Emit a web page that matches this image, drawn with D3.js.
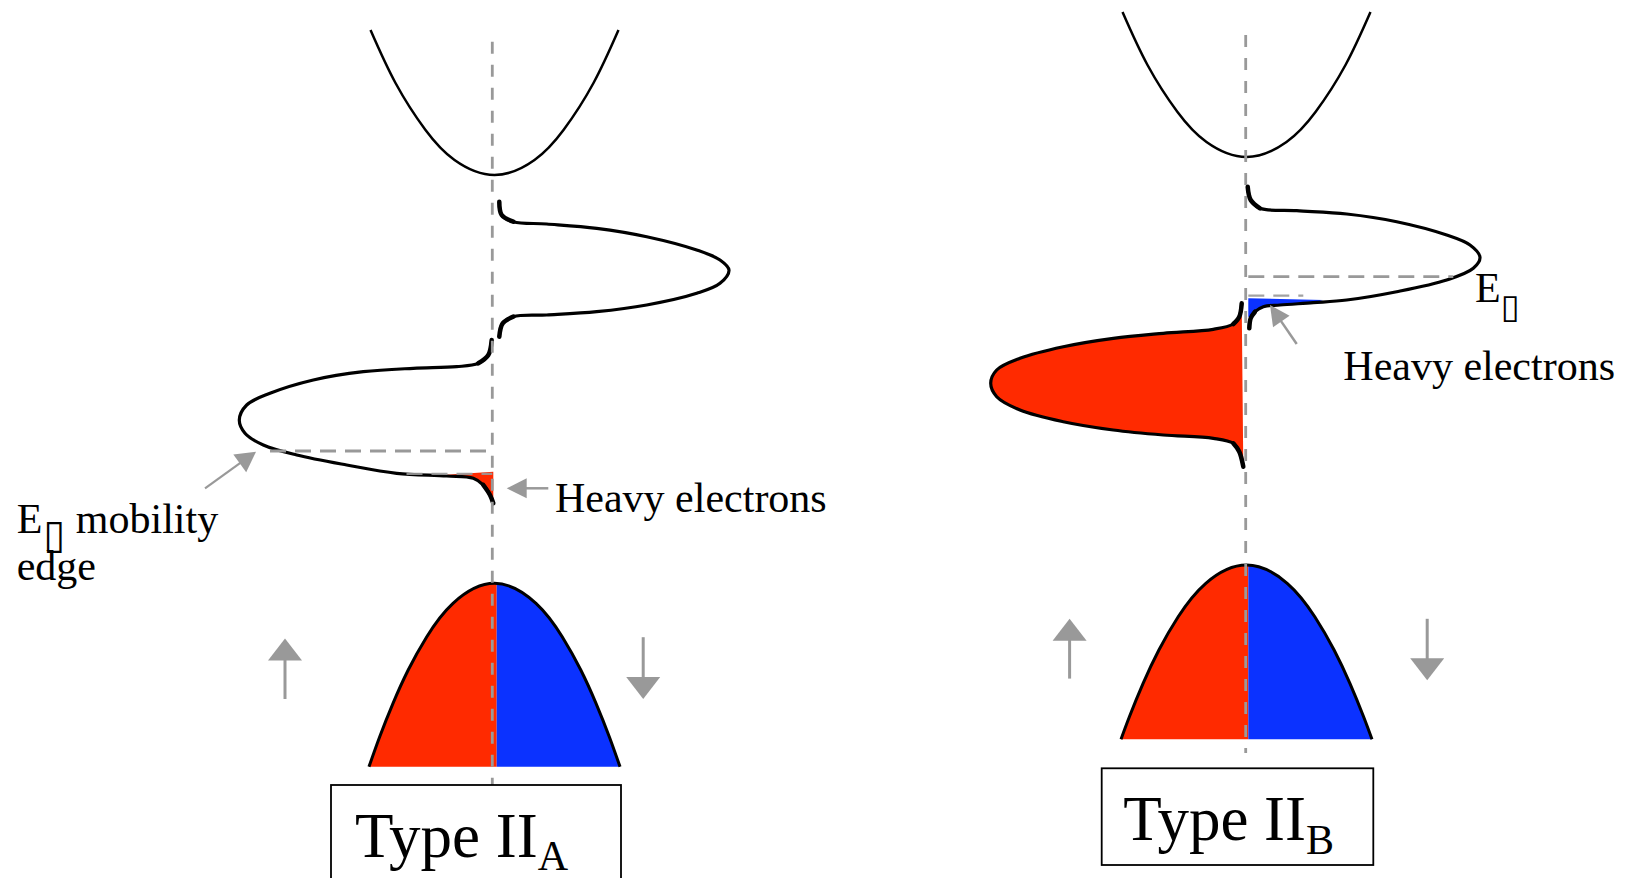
<!DOCTYPE html>
<html><head><meta charset="utf-8">
<script src="https://cdn.jsdelivr.net/npm/d3@7"></script>
<style>html,body{margin:0;padding:0;background:#fff;overflow:hidden}</style>
</head><body>
<svg id="chart" width="1626" height="878" xmlns="http://www.w3.org/2000/svg"></svg>
<script>
// ================= DATA (arbitrary units: DOS / momentum horizontally, energy vertically) =================
// Conduction band dispersion, relative to band edge (shared shape)
const cbK  = [-1.24, -0.99, -0.69, -0.40, 0, 0.40, 0.69, 0.99, 1.24];
const cbdE = [ 1.45,  0.92,  0.45,  0.15, 0, 0.15, 0.45, 0.92, 1.45];
const cbEdge = {A: 6.25, B: 6.43};

// Valence band dispersions
const vbA_K = [-1.255, -1.148, -1.015, -0.863, -0.677, -0.415, 0, 0.415, 0.677, 0.863, 1.015, 1.148, 1.255];
const vbA_E = [ 0.333,  0.633,  0.967,  1.30,   1.633,  1.967, 2.167, 1.967, 1.633, 1.30, 0.967, 0.633, 0.333];
const vbB_K = [-1.255, -1.171, -1.034, -0.876, -0.683, -0.407, 0, 0.407, 0.683, 0.876, 1.034, 1.171, 1.255];
const vbB_E = [ 0.607,  0.833,  1.167,  1.50,   1.833,  2.167, 2.35, 2.167, 1.833, 1.50, 1.167, 0.833, 0.607];

// Type IIA : impurity-band DOS  [DOS, E]
const dosDownA = [[0.048,5.983],[0.072,5.85],[0.188,5.783],[0.522,5.76],[1.022,5.717],[1.522,5.633],[2.022,5.50],[2.255,5.40],[2.345,5.30],[2.255,5.167],[2.022,5.067],[1.522,4.95],[1.022,4.883],[0.522,4.85],[0.188,4.833],[0.082,4.767],[0.048,4.633]];
const dosUpA = [[-0.028,4.60],[-0.062,4.45],[-0.162,4.367],[-0.378,4.333],[-0.812,4.317],[-1.312,4.283],[-1.812,4.20],[-2.245,4.067],[-2.478,3.95],[-2.552,3.80],[-2.495,3.667],[-2.312,3.55],[-1.978,3.45],[-1.478,3.35],[-0.978,3.267],[-0.478,3.24],[-0.212,3.217],[-0.112,3.15],[-0.045,3.05],[-0.012,2.967]];
const occA = [[-0.478,3.253],[-0.012,3.283],[-0.012,2.967],[-0.045,3.05],[-0.112,3.15],[-0.212,3.217],[-0.478,3.24]];
const mobilityEdgeA = 3.49, fermiA = 3.262;

// Type IIB : impurity-band DOS
const dosDownB = [[0.012,6.133],[0.042,6.00],[0.135,5.917],[0.502,5.893],[1.002,5.86],[1.502,5.783],[2.002,5.65],[2.235,5.55],[2.335,5.427],[2.268,5.317],[2.002,5.20],[1.502,5.083],[1.002,5.00],[0.668,4.973],[0.335,4.95],[0.168,4.933],[0.085,4.883],[0.042,4.817],[0.028,4.717]];
const dosUpB = [[-0.048,4.967],[-0.072,4.833],[-0.132,4.76],[-0.332,4.707],[-0.832,4.667],[-1.332,4.617],[-1.832,4.533],[-2.265,4.417],[-2.498,4.30],[-2.558,4.167],[-2.498,4.033],[-2.265,3.90],[-1.832,3.783],[-1.332,3.70],[-0.832,3.65],[-0.332,3.617],[-0.132,3.567],[-0.072,3.483],[-0.032,3.333]];
const occB = [[0.018,5.017],[0.768,5.00],[0.668,4.973],[0.335,4.95],[0.168,4.933],[0.085,4.883],[0.042,4.817],[0.018,4.833]];
const mobilityEdgeB = 5.233, fermiB = 5.043;

// Spin arrows [D, E start, E end]
const spinA = [[-2.095, 1.01, 1.616], [1.487, 1.628, 1.01]];
const spinB = [[-1.769, 1.214, 1.812], [1.807, 1.812, 1.197]];

// Text
const typeLabel = "Type II";
const typeSubs = ["A", "B"];
const heavyLabel = "Heavy electrons";
const edgeLabel = ["mobility", "edge"];
const edgeSym = "\u25AF";

// ================= LAYOUT =================
const RED = "#ff2a00", BLUE = "#0b32ff", GREY = "#999999";
const svg = d3.select("#chart");
svg.append("rect").attr("width",1626).attr("height",878).attr("fill","#fff");
const y = d3.scaleLinear().domain([0, 8]).range([800, 0]);
const xA = d3.scaleLinear().domain([-3, 3]).range([194.5, 794.5]);
const xB = d3.scaleLinear().domain([-3, 3]).range([946.5, 1546.5]);
const serif = "'Liberation Serif','Times New Roman',serif";

function zipKE(K, E) { return K.map((k, i) => [k, E[i]]); }

function drawPanel(x, o) {
  const g = svg.append("g");
  const line = d3.line().x(d => x(d[0])).y(d => y(d[1])).curve(d3.curveCatmullRom.alpha(0.5));
  const smooth = d3.line().x(d => x(d[0])).y(d => y(d[1])).curve(d3.curveNatural);
  const cx = x(0);

  // valence band: red (up) left, blue (down) right
  const vb = o.vb;
  const vbPath = smooth(vb) + `L${x(vb[vb.length-1][0])},${y(vb[0][1])}Z`;
  const clipL = "clipL" + o.id, clipR = "clipR" + o.id;
  const defs = g.append("defs");
  defs.append("clipPath").attr("id", clipL).append("rect").attr("x", 0).attr("y", 0).attr("width", cx + o.split).attr("height", 878);
  defs.append("clipPath").attr("id", clipR).append("rect").attr("x", cx + o.split).attr("y", 0).attr("width", 1626).attr("height", 878);
  g.append("path").attr("d", vbPath).attr("fill", RED).attr("clip-path", `url(#${clipL})`);
  g.append("path").attr("d", vbPath).attr("fill", BLUE).attr("clip-path", `url(#${clipR})`);
  g.append("path").attr("d", smooth(vb)).attr("fill", "none").attr("stroke", "#000").attr("stroke-width", 3);

  // conduction band parabola
  const cb = cbK.map((k, i) => [k, o.cbEdge + cbdE[i]]);
  g.append("path").attr("d", smooth(cb)).attr("fill", "none").attr("stroke", "#000").attr("stroke-width", 2.5);

  // filled lobe (type IIB)
  if (o.fillUp) {
    g.append("path").attr("d", line(o.up) + "Z").attr("fill", RED);
  }
  // occupied heavy-electron slivers
  g.append("path").attr("d", d3.line().x(d => x(d[0])).y(d => y(d[1]))(o.occ) + "Z").attr("fill", o.occColor);

  // DOS curves (thicker hooks near the centre line)
  [o.down, o.up].forEach(c => {
    g.append("path").attr("d", line(c)).attr("fill", "none")
      .attr("stroke", "#000").attr("stroke-width", 3.2).attr("stroke-linejoin", "round");
    [c.slice(0, 3), c.slice(-3)].forEach(h => g.append("path").attr("d", line(h)).attr("fill", "none")
      .attr("stroke", "#000").attr("stroke-width", 4.5).attr("stroke-linecap", "round"));
  });

  // dashed lines
  const ax = cx + o.axisShift;
  g.append("line").attr("x1", ax).attr("x2", ax).attr("y1", y(o.axisTop)).attr("y2", y(o.axisBot))
    .attr("stroke", GREY).attr("stroke-width", 2.8).attr("stroke-dasharray", "12,11");
  g.append("line").attr("x1", x(o.mobX[0])).attr("x2", x(o.mobX[1])).attr("y1", y(o.mob)).attr("y2", y(o.mob))
    .attr("stroke", GREY).attr("stroke-width", 2.8).attr("stroke-dasharray", "16,9");
  g.append("line").attr("x1", x(o.ferX[0])).attr("x2", x(o.ferX[1])).attr("y1", y(o.fer)).attr("y2", y(o.fer))
    .attr("stroke", GREY).attr("stroke-width", 2.2).attr("stroke-dasharray", "16,9").attr("opacity", 0.9);

  // spin arrows
  o.spin.forEach(s => arrow(g, x(s[0]), y(s[1]), x(s[0]), y(s[2]), 22, 17, 3));
  return g;
}

function arrow(g, x1, y1, x2, y2, hl, hw, sw) {
  const dx = x2 - x1, dy = y2 - y1, L = Math.hypot(dx, dy), ux = dx / L, uy = dy / L;
  const bx = x2 - ux * hl, by = y2 - uy * hl;
  g.append("line").attr("x1", x1).attr("y1", y1).attr("x2", bx + ux * 2).attr("y2", by + uy * 2)
    .attr("stroke", GREY).attr("stroke-width", sw);
  g.append("path").attr("d", `M${x2},${y2}L${bx - uy * hw},${by + ux * hw}L${bx + uy * hw},${by - ux * hw}Z`).attr("fill", GREY);
}

const gA = drawPanel(xA, {id: "A", vb: zipKE(vbA_K, vbA_E), split: 2.2, cbEdge: cbEdge.A,
  down: dosDownA, up: dosUpA, fillUp: false, occ: occA, occColor: RED,
  axisShift: -2.2, axisTop: 7.583, axisBot: 0.15,
  mob: mobilityEdgeA, mobX: [-2.245, -0.022], fer: fermiA, ferX: [-0.88, -0.022], spin: spinA});
const gB = drawPanel(xB, {id: "B", vb: zipKE(vbB_K, vbB_E), split: 1.8, cbEdge: cbEdge.B,
  down: dosDownB, up: dosUpB, fillUp: true, occ: occB, occColor: BLUE,
  axisShift: -0.8, axisTop: 7.65, axisBot: 0.47,
  mob: mobilityEdgeB, mobX: [0.018, 2.068], fer: fermiB, ferX: [0.018, 0.568], spin: spinB});

// annotation arrows
arrow(gA, xA(-2.895), y(3.116), xA(-2.385), y(3.483), 20, 11, 2.2);
arrow(gA, xA(0.538), y(3.117), xA(0.122), y(3.117), 20, 10, 2.5);
arrow(gB, xB(0.502), y(4.56), xB(0.235), y(4.95), 20, 10, 2.5);

// labels
function txt(g, xp, yp, s, size) {
  return g.append("text").attr("x", xp).attr("y", yp).attr("font-family", serif).attr("font-size", size).attr("fill", "#000").text(s);
}
const t1 = gA.append("text").attr("x", 16.7).attr("y", 533.3).attr("font-family", serif).attr("font-size", 42);
t1.append("tspan").text("E");
t1.append("tspan").attr("font-family", "'DejaVu Sans'").attr("font-size", 40).attr("dx", 1).attr("dy", 15).text(edgeSym);
t1.append("tspan").attr("dy", -15).text(" " + edgeLabel[0]);
txt(gA, 16.7, 580, edgeLabel[1], 42);
txt(gA, 555, 512, heavyLabel, 42);

const t2 = gB.append("text").attr("x", 1475).attr("y", 301.7).attr("font-family", serif).attr("font-size", 42);
t2.append("tspan").text("E");
t2.append("tspan").attr("font-family", "'DejaVu Sans'").attr("font-size", 34).attr("dy", 16.5).text(edgeSym);
txt(gB, 1343.3, 380, heavyLabel, 42);

// type boxes
[[gA, 331, 785, 290, 120, 355, 856.7, 870], [gB, 1101.7, 768.3, 271.6, 96.7, 1123.3, 840, 854]].forEach((b, i) => {
  b[0].append("rect").attr("x", b[1]).attr("y", b[2]).attr("width", b[3]).attr("height", b[4])
    .attr("fill", "none").attr("stroke", "#000").attr("stroke-width", 1.8);
  const t = b[0].append("text").attr("x", b[5]).attr("y", b[6]).attr("font-family", serif).attr("font-size", 63);
  t.append("tspan").text(typeLabel);
  t.append("tspan").attr("font-size", 42).attr("dy", b[7] - b[6]).text(typeSubs[i]);
});
</script>
</body></html>
